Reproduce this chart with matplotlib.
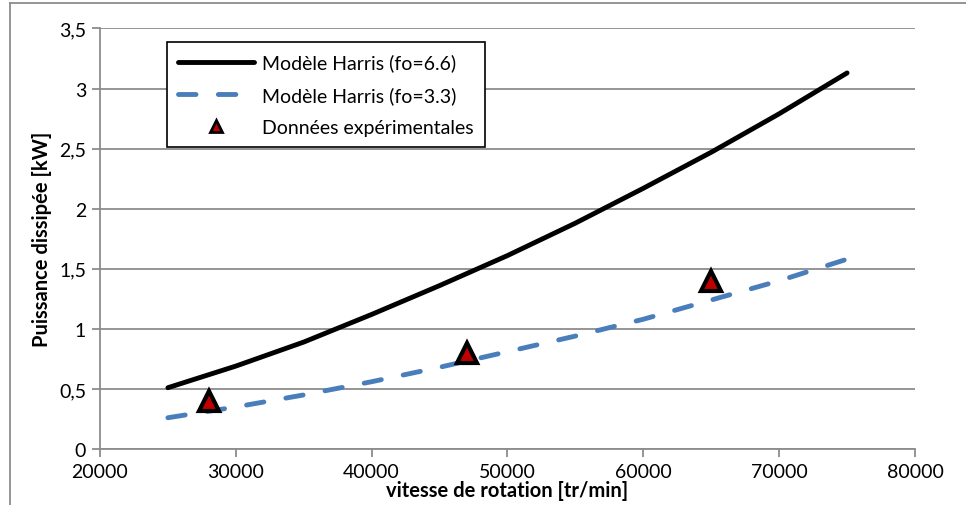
import matplotlib.pyplot as plt
from matplotlib.lines import Line2D
from matplotlib.ticker import FuncFormatter

plt.rcParams['font.family'] = ['Lato', 'DejaVu Sans']

# rotation speed [tr/min]
speed = [25000, 30000, 35000, 40000, 45000, 50000, 55000, 60000, 65000, 70000, 75000]
# Harris model, fo = 6.6 [kW]
harris_66 = [0.51, 0.69, 0.89, 1.12, 1.36, 1.61, 1.88, 2.17, 2.47, 2.79, 3.13]
# Harris model, fo = 3.3 [kW]
harris_33 = [0.26, 0.35, 0.45, 0.56, 0.68, 0.81, 0.94, 1.08, 1.24, 1.40, 1.58]
# experimental points
exp_speed = [28000, 47000, 65000]
exp_power = [0.40, 0.80, 1.40]

fig = plt.figure(figsize=(9.66, 5.06), dpi=100)
ax = fig.add_axes([0.1035, 0.1107, 0.8437, 0.831])

ax.plot(speed, harris_66, color='black', lw=3.5, solid_capstyle='round',
        label='Modèle Harris (fo=6.6)', zorder=3)
ax.plot(speed, harris_33, color='#4a7ebb', lw=3.5, dashes=(3.6, 4.6), dash_capstyle='round',
        label='Modèle Harris (fo=3.3)', zorder=3)
ax.plot(exp_speed, exp_power, ls='none', marker='^', ms=15, mfc='#c00000', mec='black',
        mew=3, label='Données expérimentales', zorder=4)

ax.set_xlim(20000, 80000)
ax.set_ylim(0, 3.5)
ax.set_xticks(range(20000, 80001, 10000))
ax.set_yticks([0, 0.5, 1, 1.5, 2, 2.5, 3, 3.5])
ax.yaxis.set_major_formatter(FuncFormatter(lambda v, p: ('%g' % v).replace('.', ',')))
ax.grid(axis='y', color='#8c8c8c', lw=1.3)
ax.set_axisbelow(True)
for s in ['top', 'right']:
    ax.spines[s].set_visible(False)
for s in ['left', 'bottom']:
    ax.spines[s].set_color('#8c8c8c')
    ax.spines[s].set_linewidth(1.3)
ax.tick_params(axis='both', direction='out', length=6, width=1.3, color='#8c8c8c',
               labelsize=14, pad=4)

ax.set_xlabel('vitesse de rotation [tr/min]', fontsize=14.5, fontweight='bold', labelpad=0)
ax.set_ylabel('Puissance dissipée [kW]', fontsize=14.5, fontweight='bold', labelpad=5)

leg = ax.legend(loc='upper left', bbox_to_anchor=(0.082, 0.968), borderaxespad=0,
                fontsize=14, handlelength=3.9, labelspacing=0.75, fancybox=False,
                edgecolor='black', framealpha=1, borderpad=0.6, handletextpad=0.4)
leg.get_frame().set_linewidth(1.2)
leg.legend_handles[2].set_markersize(9)
leg.legend_handles[2].set_markeredgewidth(2)

# outer chart frame
fig.add_artist(Line2D([10 / 966, 10 / 966], [0, 1 - 4 / 506], color='#8c8c8c', lw=1.3))
fig.add_artist(Line2D([10 / 966, 1], [1 - 4 / 506, 1 - 4 / 506], color='#8c8c8c', lw=1.3))

fig.savefig('out.png', dpi=100)
